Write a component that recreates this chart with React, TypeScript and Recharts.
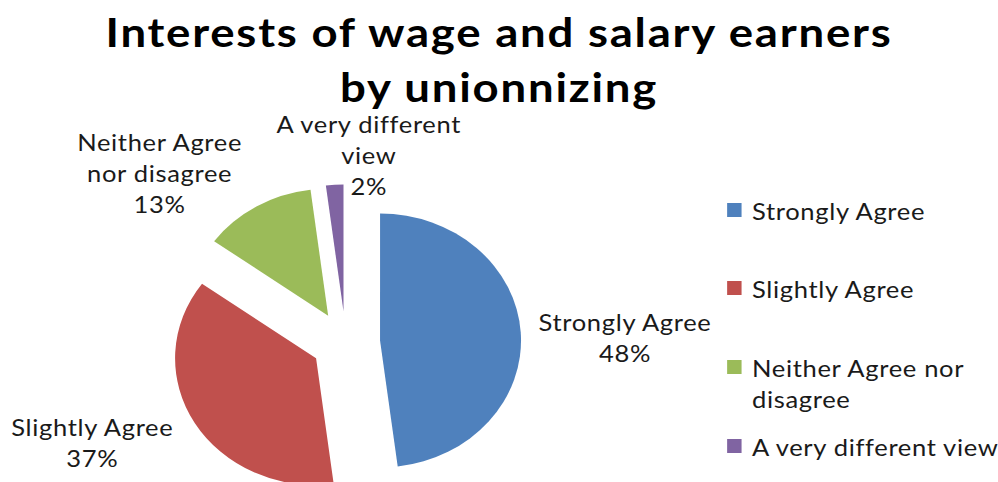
import React from 'react';
import { PieChart, Pie, Cell, Legend } from 'recharts';

const categories = ['Strongly Agree', 'Slightly Agree', 'Neither Agree nor disagree', 'A very different view'];
const values = [48, 37, 13, 2];
const percentLabels = ['48%', '37%', '13%', '2%'];
const labelLines = [['Strongly Agree'], ['Slightly Agree'], ['Neither Agree', 'nor disagree'], ['A very different', 'view']];
const legendLines = [['Strongly Agree'], ['Slightly Agree'], ['Neither Agree nor', 'disagree'], ['A very different view']];
const titleLines = ['Interests of wage and salary earners', 'by unionnizing'];

const colors = ['#4F81BD', '#C0504D', '#9BBB59', '#8064A2'];

// the reference is drawn horizontally stretched; reproduce with a scaleX
const OUT_W = 998;
const H = 482;
const W = 899;
const SX = OUT_W / W;

const CX = 311.4;
const CY = 342.5;
const R = 127;
const EXPLODE = 31;
const LABEL_GAP = 20;
const LINE_H = 31;
const FONT = 'Lato, "Open Sans", sans-serif';
const LABEL_SIZE = 23;
const LABEL_SPACING = 0.6;
const labelNudge = [
  [74, 6],
  [-75, 9],
  [-77, -17],
  [32, -10],
];

const data = categories.map((name, i) => ({ name, value: values[i] }));
const total = values.reduce((a, b) => a + b, 0);

// clockwise-from-top mid angle for each slice, derived from the data
const midAngles = values.map((v, i) => {
  const before = values.slice(0, i).reduce((a, b) => a + b, 0);
  return ((before + v / 2) / total) * 360;
});

const RAD = Math.PI / 180;

function makeLabel(layer: number) {
  return (props: any) => {
    const { cx, cy, midAngle, outerRadius, index } = props;
    if (index !== layer) return null;
    const r = outerRadius + LABEL_GAP;
    const px = cx + r * Math.cos(-midAngle * RAD) + labelNudge[index][0];
    const py = cy + r * Math.sin(-midAngle * RAD) + labelNudge[index][1];
    const lines = [...labelLines[index], percentLabels[index]];
    const startY = py - ((lines.length - 1) * LINE_H) / 2;
    return (
      <text
        x={px}
        y={startY}
        textAnchor="middle"
        dominantBaseline="central"
        fill="#1a1a1a"
        fontSize={LABEL_SIZE}
        fontFamily={FONT}
        letterSpacing={LABEL_SPACING}
      >
        {lines.map((t, k) => (
          <tspan key={k} x={px} y={startY + k * LINE_H} dominantBaseline="central">
            {t}
          </tspan>
        ))}
      </text>
    );
  };
}

const LegendContent = () => (
  <div style={{ fontFamily: FONT, fontSize: LABEL_SIZE, letterSpacing: LABEL_SPACING, color: '#1a1a1a' }}>
    {legendLines.map((lines, i) => (
      <div key={i} style={{ height: 78.7, display: 'flex', alignItems: 'flex-start' }}>
        <div
          style={{
            width: 13.5,
            height: 14,
            background: colors[i],
            marginTop: 7,
            marginRight: 9,
            flex: 'none',
          }}
        />
        <div style={{ lineHeight: `${LINE_H}px`, whiteSpace: 'nowrap' }}>
          {lines.map((t, k) => (
            <div key={k}>{t}</div>
          ))}
        </div>
      </div>
    ))}
  </div>
);

export default function App() {
  return (
    <div style={{ position: 'absolute', left: 0, top: 0, width: OUT_W, height: H, background: '#fff', overflow: 'hidden' }}>
      <div
        style={{
          position: 'absolute',
          left: 0,
          top: 0,
          width: W,
          height: H,
          transform: `scaleX(${SX})`,
          transformOrigin: '0 0',
        }}
      >
        <div
          style={{
            position: 'absolute',
            left: 0,
            top: 0,
            width: W,
            textAlign: 'center',
            fontFamily: FONT,
            fontWeight: 700,
            fontSize: 41,
            letterSpacing: 1.6,
            color: '#000',
            zIndex: 2,
            lineHeight: 'normal',
          }}
        >
          <div style={{ position: 'absolute', left: 0, width: W, top: 6.5, whiteSpace: 'nowrap' }}>{titleLines[0]}</div>
          <div style={{ position: 'absolute', left: 0, width: W, top: 61.5, whiteSpace: 'nowrap' }}>{titleLines[1]}</div>
        </div>
        <PieChart width={W} height={H} margin={{ top: 0, right: 0, bottom: 0, left: 0 }}>
          {data.map((_, layer) => {
            const th = midAngles[layer] * RAD;
            const lcx = CX + EXPLODE * Math.sin(th);
            const lcy = CY - EXPLODE * Math.cos(th);
            return (
              <Pie
                key={layer}
                data={data}
                dataKey="value"
                nameKey="name"
                cx={lcx}
                cy={lcy}
                outerRadius={R}
                startAngle={90}
                endAngle={-270}
                stroke="none"
                labelLine={false}
                label={makeLabel(layer)}
                isAnimationActive={false}
              >
                {data.map((d, i) => (
                  <Cell key={d.name} fill={i === layer ? colors[i] : 'transparent'} stroke="none" />
                ))}
              </Pie>
            );
          })}
          <Legend
            layout="vertical"
            align="right"
            verticalAlign="top"
            content={<LegendContent />}
            wrapperStyle={{ position: 'absolute', left: 654.9, top: 195.5, width: 260 }}
          />
        </PieChart>
      </div>
    </div>
  );
}
